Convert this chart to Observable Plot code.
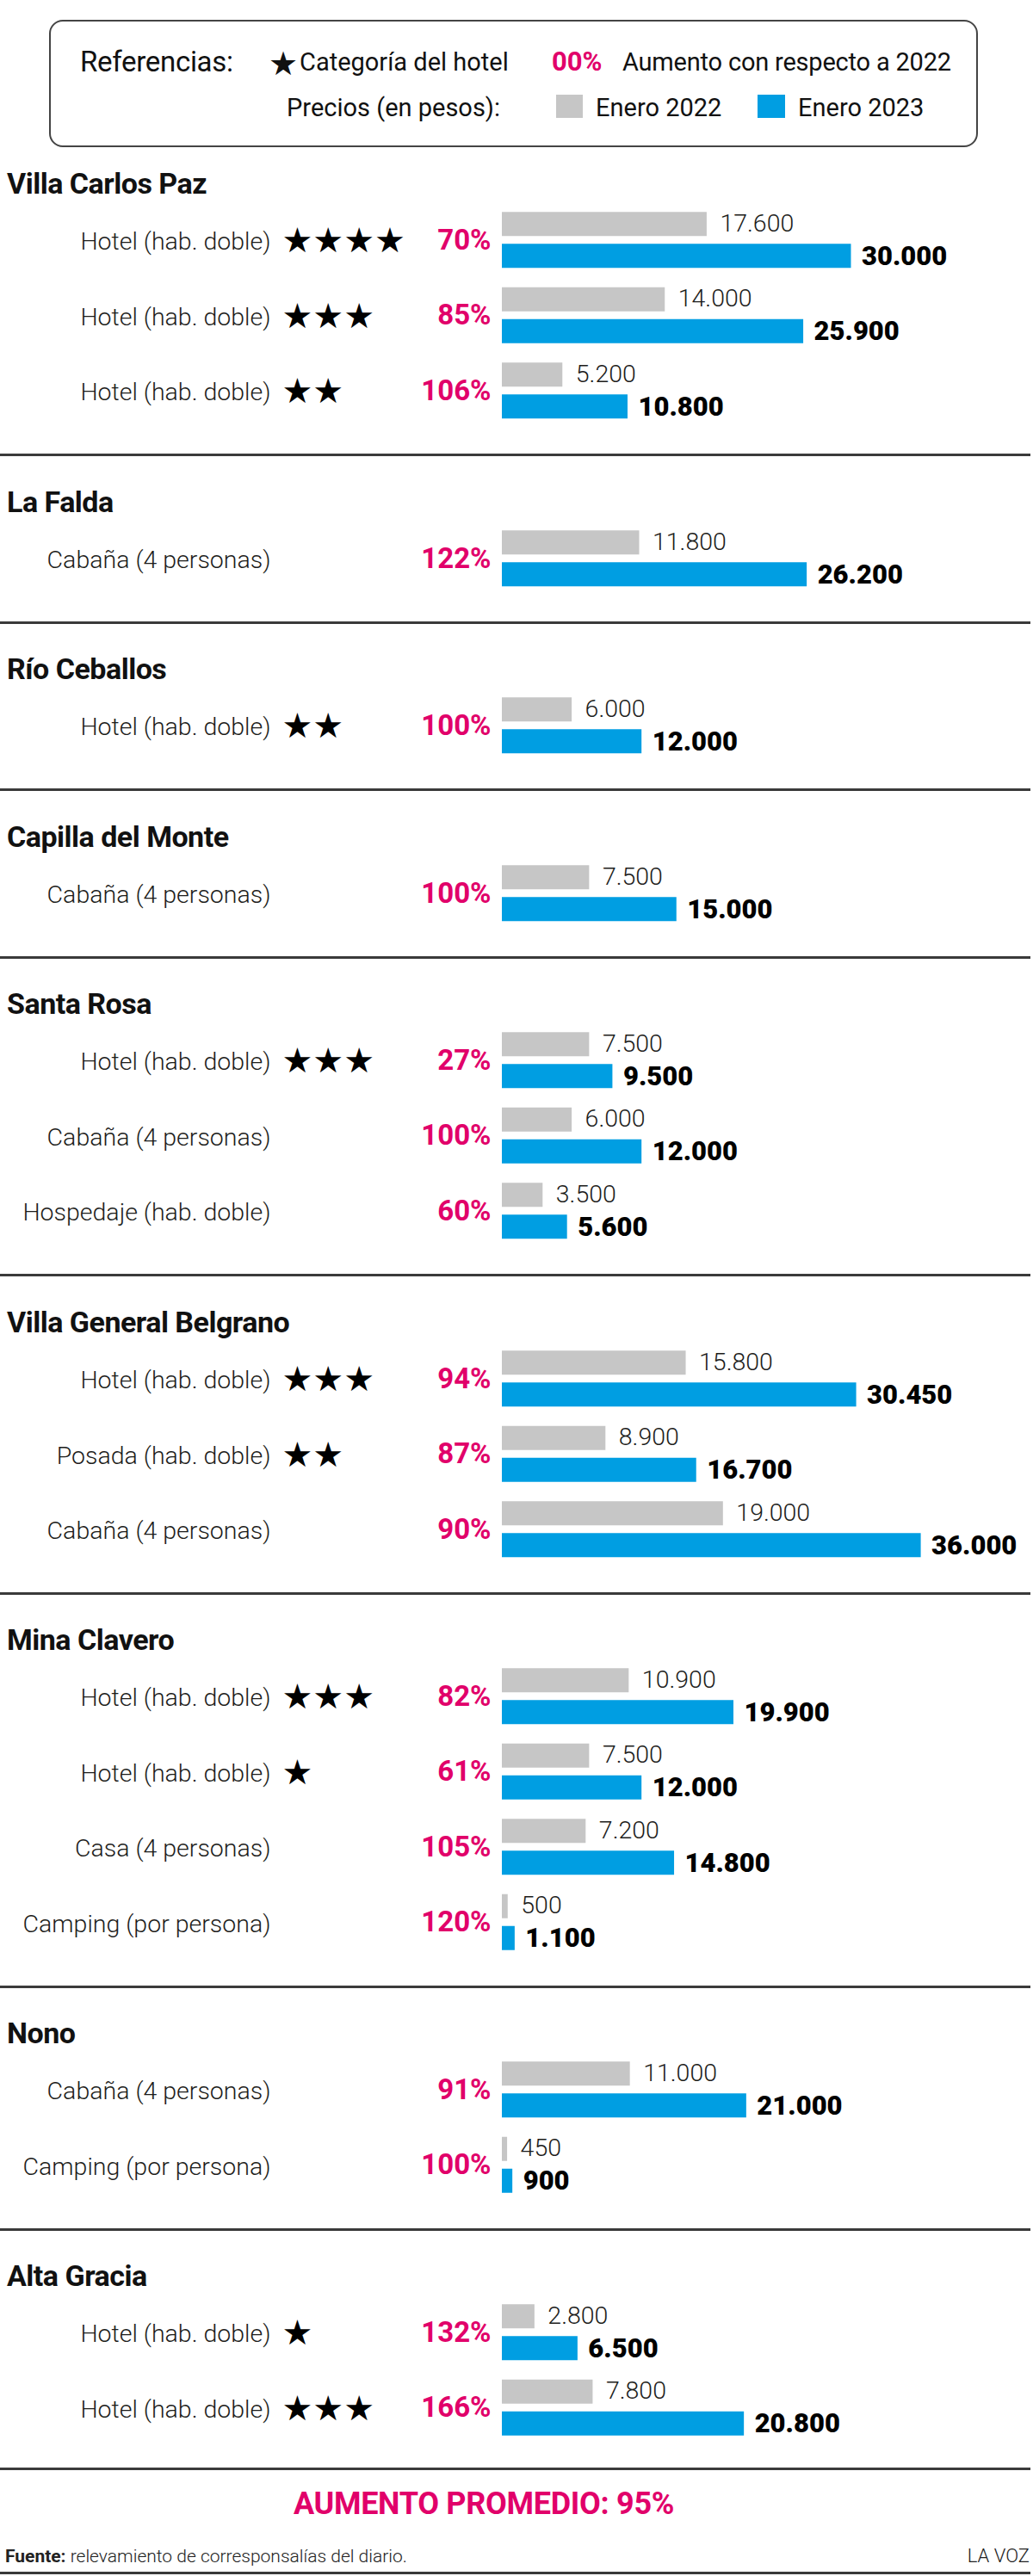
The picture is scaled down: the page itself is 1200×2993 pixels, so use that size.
<!DOCTYPE html>
<html>
<head>
<meta charset="utf-8">
<script src="https://cdn.jsdelivr.net/npm/d3@7"></script>
<script src="https://cdn.jsdelivr.net/npm/@observablehq/plot@0.6"></script>
<style>
  body { margin: 0; background: #fff; font-family: Roboto, "Noto Sans", sans-serif; color: #1d1d1b; }
  #page { position: relative; width: 1200px; height: 2993px; overflow: hidden; background: #fff; }
  .abs { position: absolute; white-space: nowrap; }
  .sep { position: absolute; left: 0; width: 1197px; height: 3px; background: #3a3a3a; }
  .title { position: absolute; left: 8px; font-weight: 700; font-size: 34px; letter-spacing: -0.5px; line-height: 40px; color: #111; }
  g[aria-label="stars"] text { letter-spacing: 4px; }
  g[aria-label="enero2023"] text { letter-spacing: 2px; }
  g[aria-label="enero2022"] text { letter-spacing: -1.2px; }
  g[aria-label="labels"] text { letter-spacing: -0.9px; }
  svg { overflow: visible; }
</style>
</head>
<body>
<div id="page"></div>
<script>
// ---------------- DATA ----------------
const sections = ["Villa Carlos Paz", "La Falda", "Río Ceballos", "Capilla del Monte", "Santa Rosa",
  "Villa General Belgrano", "Mina Clavero", "Nono", "Alta Gracia"];
const rowSection = [0, 0, 0, 1, 2, 3, 4, 4, 4, 5, 5, 5, 6, 6, 6, 6, 7, 7, 8, 8];
const rowLabel = [
  "Hotel (hab. doble)", "Hotel (hab. doble)", "Hotel (hab. doble)",
  "Cabaña (4 personas)",
  "Hotel (hab. doble)",
  "Cabaña (4 personas)",
  "Hotel (hab. doble)", "Cabaña (4 personas)", "Hospedaje (hab. doble)",
  "Hotel (hab. doble)", "Posada (hab. doble)", "Cabaña (4 personas)",
  "Hotel (hab. doble)", "Hotel (hab. doble)", "Casa (4 personas)", "Camping (por persona)",
  "Cabaña (4 personas)", "Camping (por persona)",
  "Hotel (hab. doble)", "Hotel (hab. doble)"
];
const rowStars = [4, 3, 2, 0, 2, 0, 3, 0, 0, 3, 2, 0, 3, 1, 0, 0, 0, 0, 1, 3];
const enero2022 = [17600, 14000, 5200, 11800, 6000, 7500, 7500, 6000, 3500, 15800, 8900, 19000,
  10900, 7500, 7200, 500, 11000, 450, 2800, 7800];
const enero2023 = [30000, 25900, 10800, 26200, 12000, 15000, 9500, 12000, 5600, 30450, 16700, 36000,
  19900, 12000, 14800, 1100, 21000, 900, 6500, 20800];
const aumento = [70, 85, 106, 122, 100, 100, 27, 100, 60, 94, 87, 90, 82, 61, 105, 120, 91, 100, 132, 166];
const aumentoPromedio = 95;
const legendTexts = ["Referencias:", "Categoría del hotel", "00%", "Aumento con respecto a 2022",
  "Precios (en pesos):", "Enero 2022", "Enero 2023"];
const fuente = ["Fuente:", " relevamiento de corresponsalías del diario."];
const firma = "LA VOZ";

// ---------------- STYLE / LAYOUT ----------------
const GRAY = "#c6c6c6", BLUE = "#009ee2", PINK = "#e1006a", INK = "#1d1d1b";
const ROW = 87.5, HEAD = 76, FOOT = 31;
const X0 = 583, X1 = 1069.6, W = 1200;
const BAR = 28, GAP = 9;
const padTop = (ROW - 2 * BAR - GAP) / 2;
const fmt = d3.formatLocale({decimal: ",", thousands: ".", grouping: [3], currency: ["$", ""]}).format(",d");

const page = document.getElementById("page");
function el(tag, cls, style, html) {
  const e = document.createElement(tag);
  if (cls) e.className = cls;
  Object.assign(e.style, style);
  if (html != null) e.innerHTML = html;
  page.appendChild(e);
  return e;
}

// Legend box
el("div", "abs", {left: "57px", top: "23px", width: "1075px", height: "144px",
  border: "2px solid #444", borderRadius: "16px"});
const L1 = 72, L2 = 125;
function ltext(txt, left, cy, size, extra = {}) {
  return el("div", "abs", Object.assign({left: left + "px", top: (cy - 20) + "px", fontSize: size + "px",
    lineHeight: "40px", color: "#111"}, extra), txt);
}
ltext(legendTexts[0], 93, L1, 33, {letterSpacing: "-0.3px"});
ltext("★", 312, L1 + 2, 38, {fontFamily: "DejaVu Sans"});
ltext(legendTexts[1], 348, L1, 29);
ltext(legendTexts[2], 641, L1, 31, {color: PINK, fontWeight: 700});
ltext(legendTexts[3], 723, L1, 29, {letterSpacing: "-0.2px"});
el("div", "abs", {right: (W - 581) + "px", top: (L2 - 20) + "px", fontSize: "29px", lineHeight: "40px", color: "#111"}, legendTexts[4]);
el("div", "abs", {left: "646px", top: "110px", width: "31px", height: "27px", background: GRAY});
ltext(legendTexts[5], 692, L2, 29);
el("div", "abs", {left: "880px", top: "110px", width: "32px", height: "27px", background: BLUE});
ltext(legendTexts[6], 927, L2, 29);

// Rows table
const rows = rowLabel.map((label, i) => ({
  id: i, section: rowSection[i], label, stars: rowStars[i],
  v22: enero2022[i], v23: enero2023[i], pct: aumento[i]
}));

function sectionPlot(data) {
  const H = data.length * ROW;
  const mid = ROW / 2;
  const grayC = padTop + BAR / 2 - mid;
  const blueC = padTop + BAR + GAP + BAR / 2 - mid;
  return Plot.plot({
    width: W, height: H,
    marginLeft: X0, marginRight: W - X1, marginTop: 0, marginBottom: 0,
    x: {domain: [0, 36000], axis: null},
    y: {domain: data.map(d => d.id), range: [0, H], padding: 0, round: false, axis: null},
    style: {fontFamily: "Roboto", background: "transparent", overflow: "visible"},
    marks: [
      Plot.barX(data, {x: "v22", y: "id", fill: GRAY, insetTop: padTop, insetBottom: ROW - padTop - BAR}),
      Plot.barX(data, {x: "v23", y: "id", fill: BLUE, insetTop: padTop + BAR + GAP, insetBottom: padTop}),
      Plot.text(data, {x: "v22", y: "id", text: d => fmt(d.v22), dx: 15, dy: grayC - 1,
        textAnchor: "start", fontSize: 28.5, fontWeight: 300, fill: INK, ariaLabel: "enero2022"}),
      Plot.text(data, {x: "v23", y: "id", text: d => fmt(d.v23), dx: 12, dy: blueC,
        textAnchor: "start", fontSize: 31, fontWeight: 900, fill: "#000", ariaLabel: "enero2023"}),
      Plot.text(data, {frameAnchor: "left", y: "id", text: "label", textAnchor: "end", dx: 314 - X0, dy: 2,
        fontSize: 28.5, fontWeight: 300, fill: INK, ariaLabel: "labels"}),
      Plot.text(data.filter(d => d.stars > 0), {frameAnchor: "left", y: "id", text: d => "★".repeat(d.stars),
        textAnchor: "start", dx: 327 - X0, dy: 1, fontSize: 40, fontFamily: "DejaVu Sans", fill: "#000", ariaLabel: "stars"}),
      Plot.text(data, {frameAnchor: "left", y: "id", text: d => d.pct + "%", textAnchor: "end", dx: 570 - X0,
        fontSize: 33, fontWeight: 700, fill: PINK})
    ]
  });
}

let y = 235;
sections.forEach((name, si) => {
  if (si > 0) {
    const sepY = y + FOOT;
    el("div", "sep", {top: (sepY - 1.5) + "px"});
    y = sepY + HEAD;
  }
  el("div", "title", {top: (y - 22 - 20) + "px"}, name);
  const data = rows.filter(d => d.section === si);
  const svg = sectionPlot(data);
  const holder = el("div", "abs", {left: "0px", top: y + "px"});
  holder.appendChild(svg);
  y += data.length * ROW;
});
const lastSep = y + 27;
el("div", "sep", {top: (lastSep - 1.5) + "px"});
el("div", "abs", {left: "0px", width: "1124px", textAlign: "center", top: (lastSep + 41 - 20) + "px",
  fontSize: "36px", lineHeight: "40px", fontWeight: 700, letterSpacing: "-0.3px", color: PINK}, "AUMENTO PROMEDIO: " + aumentoPromedio + "%");
el("div", "abs", {left: "6px", top: (lastSep + 102 - 15) + "px", fontSize: "21px", lineHeight: "30px", color: "#222"},
  "<b style='font-weight:700'>" + fuente[0] + "</b><span style='font-weight:300'>" + fuente[1] + "</span>");
el("div", "abs", {right: "4px", top: (lastSep + 102 - 15) + "px", fontSize: "22px", lineHeight: "30px", fontWeight: 300, color: "#222"}, firma);
el("div", "sep", {top: "2988px", height: "3px"});
</script>
</body>
</html>
